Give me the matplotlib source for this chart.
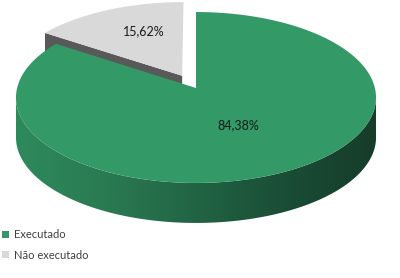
import numpy as np
import matplotlib
matplotlib.use("Agg")
import matplotlib.pyplot as plt
from matplotlib.patches import Polygon, Patch
from matplotlib.colors import LinearSegmentedColormap

plt.rcParams['font.family'] = ['Lato', 'DejaVu Sans']

# data
labels = ['Executado', 'Não executado']
values = [84.38, 15.62]
colors = ['#339966', '#d9d9d9']
explode = [0.0, 0.167]

# 3D pie layout (pixel space, y pointing down)
cx, cy = 196, 88          # projected pie centre
A, B = 178.9, 84.4        # half axes of the top ellipse
k = 0.111                 # perspective factor
depth = 40
label_r = [0.48, 0.63]
label_turn = [0, -6]


def proj(X, Z, drop=0.0):
    d = 1 + k * Z
    return cx + A * X / d, cy - B * Z / d + drop


fig = plt.figure(figsize=(4, 2.78), dpi=100)
ax = fig.add_axes([0, 0, 1, 1])

# slice angles, clockwise from 12 o'clock
fracs = np.array(values) / sum(values)
ends = 90 - 360 * np.cumsum(fracs)
starts = np.concatenate([[90], ends[:-1]])

# exploded slice (behind) first: radial cut face + top
for i in [1, 0]:
    a0, a1 = starts[i], ends[i]
    mid = np.radians((a0 + a1) / 2)
    dX, dZ = explode[i] * np.cos(mid), explode[i] * np.sin(mid)
    t = np.radians(np.linspace(a0, a1, 200))
    X = np.cos(t) + dX
    Z = np.sin(t) + dZ
    u, v = proj(X, Z)
    au, av = proj(dX, dZ)

    if explode[i] > 0:
        # cut face along the edge shared with the other slice
        face = [(au, av), (u[0], v[0]), (u[0], v[0] + depth), (au, av + depth)]
        ax.add_patch(Polygon(face, closed=True, fc='#595959', ec='none'))
    else:
        # visible outer wall, from left extreme to right extreme
        tl = np.pi + np.arcsin(k)
        tr = 2 * np.pi - np.arcsin(k)
        ts = np.linspace(tl, tr, 300)
        su, sv = proj(np.cos(ts) + dX, np.sin(ts) + dZ)
        wall = np.column_stack([np.concatenate([su, su[::-1]]),
                                np.concatenate([sv, sv[::-1] + depth])])
        wp = Polygon(wall, closed=True, fc='none', ec='none')
        ax.add_patch(wp)
        cmap = LinearSegmentedColormap.from_list(
            'wall', ['#2e8a5c', '#2a7a52', '#216444', '#1a4d35', '#163c2a'])
        im = ax.imshow(np.linspace(0, 1, 256)[None, :], cmap=cmap, aspect='auto',
                       extent=[su.min(), su.max(), sv.max() + depth, sv.min()],
                       interpolation='bilinear')
        im.set_clip_path(wp)

    top = np.column_stack([np.concatenate([[au], u]), np.concatenate([[av], v])])
    ax.add_patch(Polygon(top, closed=True, fc=colors[i], ec='none'))

    # percentage label
    lm = mid + np.radians(label_turn[i])
    lu, lv = proj(label_r[i] * np.cos(lm) + dX, label_r[i] * np.sin(lm) + dZ)
    txt = f"{values[i]:.2f}%".replace('.', ',')
    ax.text(lu, lv, txt, ha='center', va='center', fontsize=9, color='#1a1a1a')

handles = [Patch(fc=c, ec='none') for c in colors]
ax.legend(handles, labels, loc='upper left', bbox_to_anchor=(0.005, 0.175),
          frameon=False, fontsize=8, handlelength=0.6, handleheight=0.6,
          handletextpad=0.45, labelspacing=0.85, borderpad=0, borderaxespad=0,
          labelcolor='#404040')

ax.set_xlim(0, 400)
ax.set_ylim(278, 0)
ax.axis('off')

fig.savefig('out.png', dpi=100)
